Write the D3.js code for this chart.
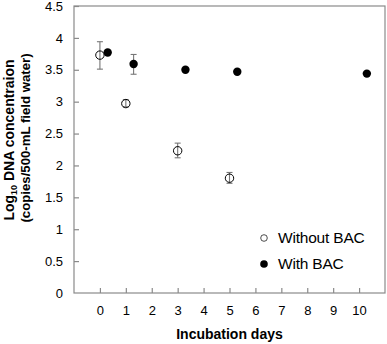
<!DOCTYPE html>
<html>
<head>
<meta charset="utf-8">
<script src="https://cdn.jsdelivr.net/npm/d3@7"></script>
<style>
  body { margin: 0; background: #fff; }
  text { font-family: "Liberation Sans", Arial, sans-serif; }
</style>
</head>
<body>
<svg id="chart"></svg>
<script>
// series: incubation day, log10 concentration, error bar low/high
const withoutDays = [0, 1, 3, 5];
const withoutVals = [3.73, 2.97, 2.23, 1.80];
const withoutLow  = [3.51, 2.92, 2.12, 1.72];
const withoutHigh = [3.94, 3.03, 2.35, 1.89];

const withDays = [0.3, 1.3, 3.3, 5.3, 10.3];
const withVals = [3.77, 3.59, 3.50, 3.47, 3.44];
const withLow  = [3.77, 3.43, 3.50, 3.47, 3.44];
const withHigh = [3.77, 3.74, 3.50, 3.47, 3.44];

const xTicks = [0, 1, 2, 3, 4, 5, 6, 7, 8, 9, 10];
const yTicks = [0, 0.5, 1, 1.5, 2, 2.5, 3, 3.5, 4, 4.5];
const legendLabels = ["Without BAC", "With BAC"];

const config = {
  width: 387, height: 344,
  margin: { top: 6, right: 2, bottom: 51, left: 74 }
};
const innerW = config.width - config.margin.left - config.margin.right;
const innerH = config.height - config.margin.top - config.margin.bottom;

const svg = d3.select('#chart')
  .attr('width', config.width)
  .attr('height', config.height);

const chart = svg.append('g')
  .attr('transform', `translate(${config.margin.left},${config.margin.top})`);

const xScale = d3.scaleLinear().domain([-1, 11]).range([0, innerW]);
const yScale = d3.scaleLinear().domain([0, 4.5]).range([innerH, 0]);

// frame
chart.append('rect')
  .attr('width', innerW).attr('height', innerH)
  .attr('fill', 'none').attr('stroke', '#8a8a8a').attr('stroke-width', 1.2);

// axes with inward ticks
const xAxis = d3.axisBottom(xScale).tickValues(xTicks).tickSize(-5).tickPadding(13);
const xAxisG = chart.append('g')
  .attr('transform', `translate(0,${innerH})`)
  .call(xAxis);

const yAxis = d3.axisLeft(yScale).tickValues(yTicks).tickSize(-5).tickPadding(11)
  .tickFormat(d3.format('~g'));
const yAxisG = chart.append('g').call(yAxis);

[xAxisG, yAxisG].forEach(g => {
  g.select('.domain').remove();
  g.selectAll('.tick line').attr('stroke', '#8a8a8a').attr('stroke-width', 1.2);
  g.selectAll('.tick text').attr('font-size', 13).attr('fill', '#000')
    .style('font-family', '"Liberation Sans", Arial, sans-serif');
});
yAxisG.selectAll('.tick').filter(d => d === 0).select('line').remove();

// error bars
function errorBars(days, low, high) {
  const g = chart.append('g');
  days.forEach((d, i) => {
    if (high[i] - low[i] < 0.01) return;
    const x = xScale(d);
    g.append('line').attr('x1', x).attr('x2', x)
      .attr('y1', yScale(low[i])).attr('y2', yScale(high[i]));
    g.append('line').attr('x1', x - 3).attr('x2', x + 3)
      .attr('y1', yScale(low[i])).attr('y2', yScale(low[i]));
    g.append('line').attr('x1', x - 3).attr('x2', x + 3)
      .attr('y1', yScale(high[i])).attr('y2', yScale(high[i]));
  });
  g.selectAll('line').attr('stroke', '#777').attr('stroke-width', 1.1);
}
errorBars(withoutDays, withoutLow, withoutHigh);
errorBars(withDays, withLow, withHigh);

// points
chart.append('g').selectAll('circle')
  .data(withoutDays.map((d, i) => [d, withoutVals[i]]))
  .join('circle')
    .attr('cx', d => xScale(d[0]))
    .attr('cy', d => yScale(d[1]))
    .attr('r', 4.2)
    .attr('fill', 'none')
    .attr('stroke', '#000')
    .attr('stroke-width', 1);

chart.append('g').selectAll('circle')
  .data(withDays.map((d, i) => [d, withVals[i]]))
  .join('circle')
    .attr('cx', d => xScale(d[0]))
    .attr('cy', d => yScale(d[1]))
    .attr('r', 4.2)
    .attr('fill', '#000');

// legend
const legend = svg.append('g').attr('transform', 'translate(264,238)');
legendLabels.forEach((label, i) => {
  const row = legend.append('g').attr('transform', `translate(0,${i * 26})`);
  row.append('circle').attr('r', i === 0 ? 3.3 : 3.8)
    .attr('fill', i === 0 ? 'none' : '#000')
    .attr('stroke', '#000').attr('stroke-width', i === 0 ? 0.7 : 0);
  row.append('text').attr('x', 14).attr('y', 4.5)
    .attr('font-size', 15.5).attr('letter-spacing', -0.2)
    .text(label);
});

// axis titles
svg.append('text')
  .attr('x', config.margin.left + xScale(5))
  .attr('y', 339)
  .attr('text-anchor', 'middle')
  .attr('font-size', 14).attr('font-weight', 'bold')
  .text('Incubation days');

const yTitle = svg.append('g')
  .attr('transform', 'translate(0,140) rotate(-90)')
  .attr('font-weight', 'bold').attr('font-size', 14).attr('text-anchor', 'middle');
const line1 = yTitle.append('text').attr('x', 0).attr('y', 14);
line1.append('tspan').text('Log');
line1.append('tspan').attr('font-size', 9).attr('dy', 3).text('10');
line1.append('tspan').attr('dy', -3).text(' DNA concentraion');
yTitle.append('text').attr('x', 2).attr('y', 30).attr('font-size', 13.2)
  .text('(copies/500-mL field water)');
</script>
</body>
</html>
